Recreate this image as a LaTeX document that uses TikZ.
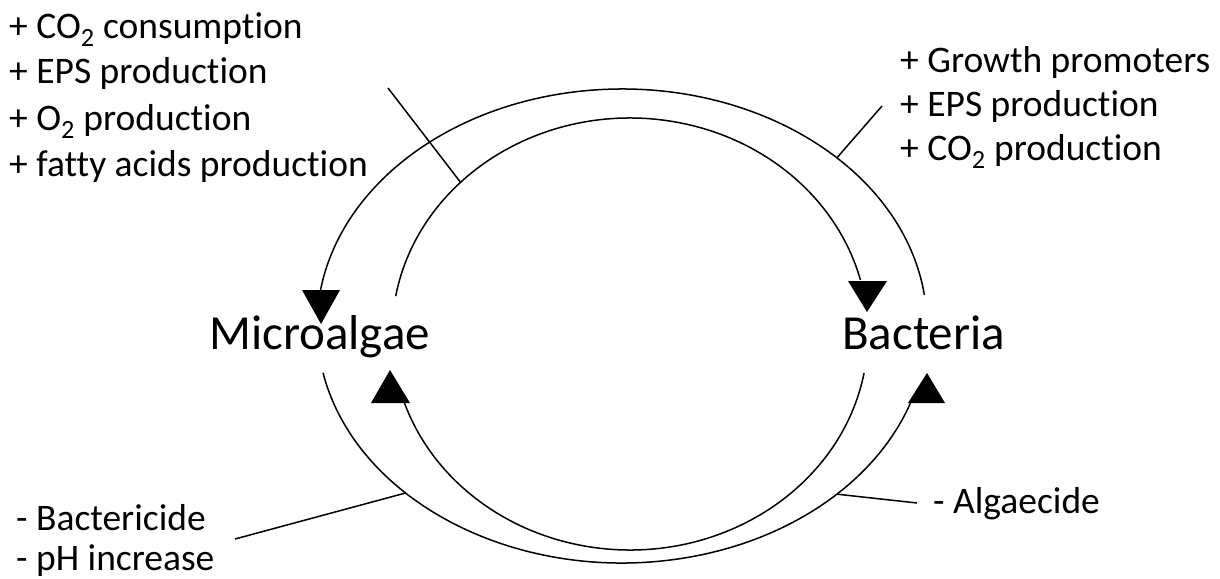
\documentclass[tikz,border=0pt]{standalone}
\usepackage{fontspec}
\setmainfont{Carlito}[Ligatures=NoCommon]
\usepackage{tikz}
\usetikzlibrary{calc}

\begin{document}
\begin{tikzpicture}[x=1pt,y=-1pt]
\tikzstyle{every node}+=[inner sep=0pt,anchor=base west]
\tikzset{effect/.style={font=\fontsize{37.5}{45}\selectfont},
  partner/.style={font=\fontsize{49}{58}\selectfont},
  cycleline/.style={draw=black,line width=1.5pt},
  headfill/.style={fill=black}}
\useasboundingbox (0,0) rectangle (1220,578);
% centres of the two loops
\coordinate (outerc) at (622,326);
\coordinate (innerc) at (630,334);
% partners
\node (alga) [partner] at (209,349) {Microalgae};
\node (bact) [partner] at (842,349) {Bacteria};
% effects of microalgae
\node (algfx1) [effect] at (9,38) {+ CO\textsubscript{2} consumption};
\node (algfx2) [effect] at (9,84) {+ EPS production};
\node (algfx3) [effect] at (9,130) {+ O\textsubscript{2} production};
\node (algfx4) [effect] at (9,176) {+ fatty acids production};
% effects of bacteria
\node (bacfx1) [effect] at (900,72) {+ Growth promoters};
\node (bacfx2) [effect] at (900,116) {+ EPS production};
\node (bacfx3) [effect] at (900,160) {+ CO\textsubscript{2} production};
% negative effects
\node (algneg1) [effect] at (16,530) {- Bactericide};
\node (algneg2) [effect] at (16,570) {- pH increase};
\node (bacneg) [effect] at (933,513) {- Algaecide};
% arc end points
\path (outerc) ++(-7.5:305 and 237) coordinate (bacout);
\path (innerc) ++(-169.9:238 and 216) coordinate (algout);
\path (innerc) ++(10.4:238 and 216) coordinate (bacback);
\path (outerc) ++(168.6:305 and 237) coordinate (algback);
% upper loop
\draw [cycleline] (bacout) arc[start angle=-7.5,end angle=-171.3,x radius=305,y radius=237];
\fill [headfill] (321,324) -- ++(-19,-34) -- ++(38,0) -- cycle;
\draw [cycleline] (algout) arc[start angle=-169.9,end angle=-14.5,x radius=238,y radius=216];
\fill [headfill] (867,312) -- ++(-19,-31) -- ++(39,0) -- cycle;
% lower loop
\draw [cycleline] (bacback) arc[start angle=10.4,end angle=161.4,x radius=238,y radius=216];
\fill [headfill] (390,370) -- ++(-19,33) -- ++(39,0) -- cycle;
\draw [cycleline] (algback) arc[start angle=168.6,end angle=19,x radius=305,y radius=237];
\fill [headfill] (927,373) -- ++(-19,30) -- ++(37,0) -- cycle;
% leader lines
\coordinate (algfxend) at (388,88);
\coordinate (bacfxend) at (882,106);
\coordinate (algnegend) at (235,539);
\coordinate (bacnegend) at (917,503);
\draw [cycleline] (algfxend) -- ($(innerc)+(-135.4:238 and 216)$);
\draw [cycleline] (bacfxend) -- ($(outerc)+(-45.2:305 and 237)$);
\draw [cycleline] (algnegend) -- ($(outerc)+(135.2:305 and 237)$);
\draw [cycleline] (bacnegend) -- ($(outerc)+(45.2:305 and 237)$);
\end{tikzpicture}
\end{document}
